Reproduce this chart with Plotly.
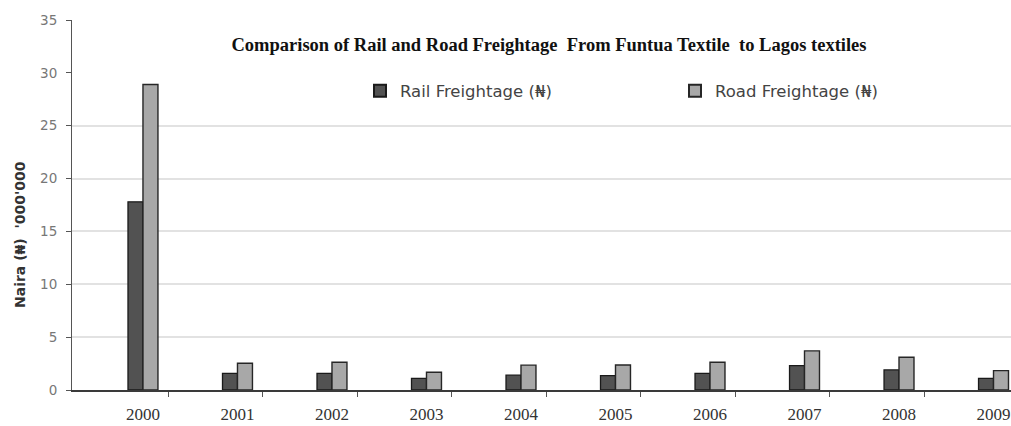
import plotly.graph_objects as go

# Freightage costs, Naira ('000'000), Funtua Textile -> Lagos
years = [2000, 2001, 2002, 2003, 2004, 2005, 2006, 2007, 2008, 2009]
rail = [17.8, 1.58, 1.58, 1.1, 1.4, 1.36, 1.58, 2.3, 1.9, 1.1]
road = [28.9, 2.53, 2.63, 1.68, 2.35, 2.37, 2.63, 3.7, 3.1, 1.83]
year_labels = [str(y) for y in years]
y_ticks = [0, 5, 10, 15, 20, 25, 30, 35]
grid_vals = [5, 10, 15, 20, 25]

W, H = 1011, 426
ML, MR, MT, MB = 72, 0, 20, 36
plot_w = W - ML - MR
plot_h = H - MT - MB

fig = go.Figure()
fig.add_trace(go.Bar(
    x=years, y=rail, name="Rail Freightage (₦)",
    marker=dict(color="#525252", line=dict(color="#1a1a1a", width=1.3)),
))
fig.add_trace(go.Bar(
    x=years, y=road, name="Road Freightage (₦)",
    marker=dict(color="#a8a8a8", line=dict(color="#262626", width=1.4)),
))

# small separator ticks sit a little to the right of each year's pair
sep_ticks = [y + 0.265 for y in years[:-1]]

fig.update_layout(
    width=W, height=H,
    margin=dict(l=ML, r=MR, t=MT, b=MB),
    paper_bgcolor="white", plot_bgcolor="white",
    barmode="group", bargap=0.683, bargroupgap=0,
    title=dict(
        text="Comparison of Rail and Road Freightage  From Funtua Textile  to Lagos textiles",
        font=dict(family="Liberation Serif", size=18.5, color="#111111", weight="bold"),
        xref="paper", x=(549 - ML) / plot_w, xanchor="center",
        yref="container", y=1 - 45 / H, yanchor="middle",
    ),
    legend=dict(
        orientation="h",
        xref="paper", x=(360 - ML) / plot_w, xanchor="left",
        yref="paper", y=(H - MB - 91) / plot_h, yanchor="middle",
        bgcolor="rgba(0,0,0,0)",
        font=dict(family="DejaVu Sans", size=16.5, color="#444444"),
        entrywidth=270, entrywidthmode="pixels",
        itemsizing="constant",
    ),
    xaxis=dict(
        range=[1999.249, 2009.185],
        tickmode="array", tickvals=years, ticktext=year_labels,
        ticks="", showgrid=False, zeroline=False,
        showline=True, linecolor="#3a3a3a", linewidth=1.5,
        tickfont=dict(family="Liberation Serif", size=17, color="#333333"),
        ticklabelstandoff=8,
        minor=dict(tickmode="array", tickvals=sep_ticks, ticks="outside",
                   ticklen=5, tickcolor="#555555", tickwidth=1, showgrid=False),
    ),
    yaxis=dict(
        range=[0, 35],
        tickmode="array", tickvals=y_ticks,
        ticks="outside", ticklen=5, tickcolor="#555555",
        showline=True, linecolor="#555555", linewidth=1,
        showgrid=False, zeroline=False,
        tickfont=dict(family="DejaVu Sans", size=13.5, color="#777777"),
        ticklabelstandoff=6,
        minor=dict(tickmode="array", tickvals=grid_vals, ticks="",
                   showgrid=True, gridcolor="#e2e2e2", gridwidth=1.5),
    ),
    showlegend=True,
)

fig.add_annotation(
    text="Naira (₦)  '000'000",
    xref="paper", yref="paper",
    x=-(ML - 20) / plot_w, y=(H - MB - 235) / plot_h,
    xanchor="center", yanchor="middle",
    textangle=-90, showarrow=False,
    font=dict(family="DejaVu Sans", size=14, color="#333333", weight="bold"),
)

fig.write_html("out.html")
